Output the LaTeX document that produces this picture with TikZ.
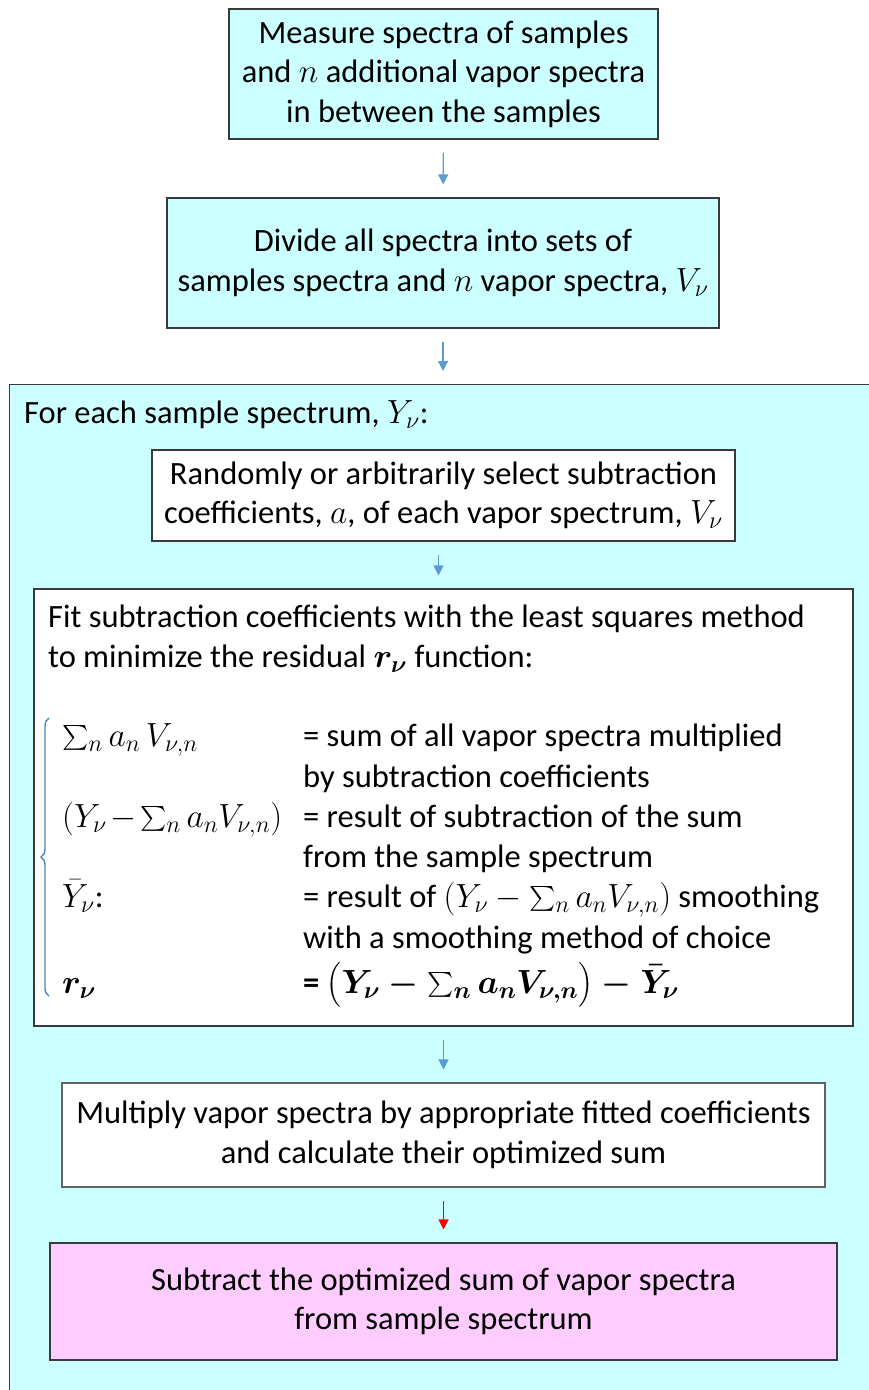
\RequirePackage{fix-cm}
\documentclass[tikz,border=0pt]{standalone}
\usepackage{amsmath}
\usepackage{fontspec}
\setmainfont{Carlito}
\DeclareMathSizes{32.5}{33.5}{24}{18}
\usetikzlibrary{arrows.meta,decorations.pathreplacing}
\definecolor{cyanfill}{HTML}{CCFFFF}
\definecolor{pinkfill}{HTML}{FFCCFF}
\definecolor{boxline}{HTML}{3A3A3A}
\definecolor{arrowblue}{HTML}{5B9BD5}
\definecolor{bracecol}{HTML}{4A86C8}
\begin{document}
\begin{tikzpicture}[x=1pt,y=-1pt,
  font=\fontsize{32.5}{39.6}\selectfont,
  box/.style={draw=boxline, line width=1.1pt, inner sep=0pt, align=center},
  cyanbox/.style={box, fill=cyanfill},
  whitebox/.style={box, fill=white},
  pinkbox/.style={box, fill=pinkfill},
  flowarrow/.style={draw=arrowblue, line width=1.2pt, -{Triangle[length=10pt,width=10pt]}, shorten <=13pt, shorten >=13pt},
  txt/.style={anchor=base west, inner sep=0pt}
]
\clip (0,0) rectangle (869,1390);
% outer loop box
\node[cyanbox, anchor=north west, minimum width=900pt, minimum height=1050pt] (loop) at (9,384) {};
\node[txt] (looplabel) at (24,423) {For each sample spectrum, $Y_\nu$:};

\node[cyanbox, minimum width=429pt, minimum height=130pt] (b1) at (443.5,74)
  {Measure spectra of samples\\ and $n$ additional vapor spectra\\ in between the samples};
\node[cyanbox, minimum width=552pt, minimum height=130pt] (b2) at (443,263)
  {Divide all spectra into sets of\\ samples spectra and $n$ vapor spectra, $V_\nu$};
\node[whitebox, minimum width=583pt, minimum height=91pt] (b3) at (443.5,495.5)
  {Randomly or arbitrarily select subtraction\\ coefficients, $a$, of each vapor spectrum, $V_\nu$};
\node[whitebox, minimum width=819pt, minimum height=437pt] (b4) at (443.5,807.5) {};
\node[whitebox, draw=boxline!80, minimum width=763pt, minimum height=104pt] (b5) at (443.5,1135)
  {Multiply vapor spectra by appropriate fitted coefficients\\ and calculate their optimized sum};
\node[pinkbox, minimum width=787pt, minimum height=117pt] (b6) at (443.5,1301.5)
  {Subtract the optimized sum of vapor spectra\\ from sample spectrum};

% contents of the fit box
\node[txt] (f1) at (48,627) {Fit subtraction coefficients with the least squares method};
\node[txt] (f2) at (48,667) {to minimize the residual $\boldsymbol{r_\nu}$ function:};
\node[txt] (m1) at (62,746) {$\sum_n a_n\, V_{\nu,n}$};
\node[txt] (t1a) at (303,746) {= sum of all vapor spectra multiplied};
\node[txt] (t1b) at (303,787) {by subtraction coefficients};
\node[txt] (m2) at (62,827) {\medmuskip=2mu $(Y_\nu - \sum_n a_n V_{\nu,n})$};
\node[txt] (t2a) at (303,827) {= result of subtraction of the sum};
\node[txt] (t2b) at (303,867) {from the sample spectrum};
\node[txt] (m3) at (62,907) {$\bar{Y}_\nu$:};
\node[txt] (t3a) at (303,907) {= result of $(Y_\nu - \sum_n a_n V_{\nu,n})$ smoothing};
\node[txt] (t3b) at (303,948) {with a smoothing method of choice};
\node[txt] (m4) at (62,993) {$\boldsymbol{r_\nu}$};
\node[txt] (t4) at (303,993) {\bfseries = $\boldsymbol{\bigl(Y_\nu - \sum_n a_n V_{\nu,n}\bigr) - \bar{Y}_\nu}$};
\coordinate (bracetop) at (49,718);
\coordinate (bracebot) at (49,996);
\draw[bracecol, line width=1.4pt, decorate, decoration={brace, amplitude=8pt}] (bracebot) -- (bracetop);

% arrows
\draw[flowarrow] (b1) -- (b2);
\draw[flowarrow] (b2.south) -- (b2.south |- loop.north);
\draw[flowarrow] ([xshift=-5pt]b3.south) -- ([xshift=-5pt]b3.south |- b4.north);
\draw[flowarrow] (b4) -- (b5);
\draw[flowarrow, draw=red] (b5) -- (b6);
\end{tikzpicture}
\end{document}
